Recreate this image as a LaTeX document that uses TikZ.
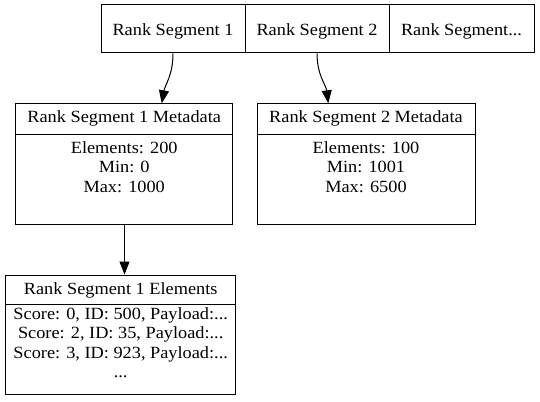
\documentclass[tikz,border=0pt]{standalone}
\usepackage{fontspec}
\setmainfont[FakeStretch=1.07]{Liberation Serif}
\usetikzlibrary{arrows.meta}
\newcommand{\stacklines}[1]{\vtop{\baselineskip=19.5pt\lineskiplimit=-100pt\halign{\hfil##\hfil\cr#1\crcr}}}
\begin{document}
\begin{tikzpicture}[x=1pt,y=-1pt,
  font=\fontsize{17.1}{19.5}\selectfont,
  box/.style={draw,line width=1pt,inner sep=0pt},
  txt/.style={inner sep=0pt,anchor=base},
  edge/.style={-{Triangle[length=13pt,width=10pt]},line width=1pt}]
\useasboundingbox (0,0) rectangle (540,401);
% top record
\node[box,minimum width=144,minimum height=48] (c1) at (173,29) {};
\node[box,minimum width=144,minimum height=48] (c2) at (317,29) {};
\node[box,minimum width=145,minimum height=48] (c3) at (461.5,29) {};
\node[txt] (t1) at (173,35.5) {Rank Segment 1};
\node[txt] (t2) at (317,35.5) {Rank Segment 2};
\node[txt] (t3) at (461.5,35.5) {Rank Segment...};
% metadata 1
\node[box,minimum width=217,minimum height=120.7] (m1) at (124.2,163.7) {};
\draw[line width=1pt] (m1.west |- 0,134) -- (m1.east |- 0,134);
\node[txt] (m1h) at (124.2,122.5) {Rank Segment 1 Metadata};
\node[txt] (m1b) at (124.2,153.3) {\stacklines{Elements: 200\cr Min: 0\cr Max: 1000}};
% metadata 2
\node[box,minimum width=218,minimum height=120.7] (m2) at (366,163.7) {};
\draw[line width=1pt] (m2.west |- 0,134) -- (m2.east |- 0,134);
\node[txt] (m2h) at (366,122.5) {Rank Segment 2 Metadata};
\node[txt] (m2b) at (366,153.3) {\stacklines{Elements: 100\cr Min: 1001\cr Max: 6500}};
% elements
\node[box,minimum width=230,minimum height=119] (el) at (120.7,334.5) {};
\draw[line width=1pt] (el.west |- 0,304) -- (el.east |- 0,304);
\node[txt] (elh) at (120.7,294.5) {Rank Segment 1 Elements};
\node[txt] (elb) at (120.7,319) {\stacklines{Score: 0, ID: 500, Payload:...\cr Score: 2, ID: 35, Payload:...\cr Score: 3, ID: 923, Payload:...\cr ...}};
% connectors
\coordinate (m1in) at (161.7,103.3);
\coordinate (m2in) at (328.3,103.3);
\draw[edge] (c1.south) .. controls (173,75) and (165,85) .. (m1in);
\draw[edge] (c2.south) .. controls (317,75) and (326,85) .. (m2in);
\draw[edge] (m1.south -| 124.5,0) -- (el.north -| 124.5,0);
\end{tikzpicture}
\end{document}
